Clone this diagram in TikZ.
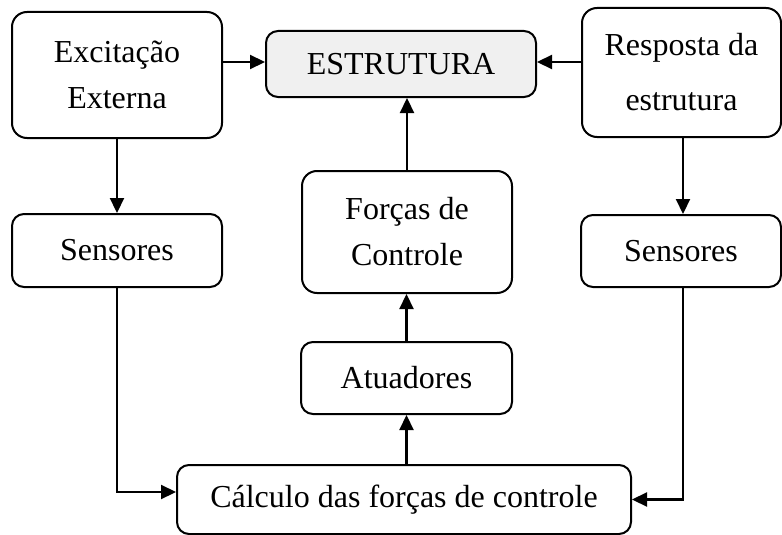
\documentclass[tikz,border=0pt]{standalone}
\usepackage{fontspec}
\setmainfont{Liberation Serif}
\usetikzlibrary{arrows.meta}

\tikzset{bloco/.style={draw,fill=#1,line width=2pt,rounded corners=12pt,align=center,inner sep=0pt,font=\fontsize{32}{38}\selectfont},bloco/.default={white}}

\begin{document}
\begin{tikzpicture}
[x=1pt,y=-1pt,
seta/.style={line width=2.2pt,-{Triangle[length=15pt,width=14pt]}}]
\useasboundingbox (0,0) rectangle (782,535);
\node [bloco,minimum width=210pt,minimum height=126pt,rounded corners=15pt] (exc) at (117,75) {Excita\c{c}\~ao\\[8pt]Externa};
\node [bloco=black!6,minimum width=270pt,minimum height=66pt] (estr) at (401,64) {ESTRUTURA};
\node [bloco,minimum width=199pt,minimum height=129pt,rounded corners=15pt] (resp) at (681.5,72.5) {Resposta da\\[17pt]estrutura};
\node [bloco,minimum width=210pt,minimum height=73pt] (sensL) at (117,250.5) {Sensores};
\node [bloco,minimum width=210pt,minimum height=122pt,rounded corners=15pt] (forcas) at (407,232) {For\c{c}as de\\[8pt]Controle};
\node [bloco,minimum width=200pt,minimum height=72pt] (sensR) at (681,251) {Sensores};
\node [bloco,minimum width=211pt,minimum height=72pt] (atu) at (406.5,378) {Atuadores};
\node [bloco,minimum width=454pt,minimum height=69pt] (calc) at (404,499.5) {C\'alculo das for\c{c}as de controle};

\draw [seta] (exc.east |- 0,62) -- (estr.west |- 0,62);
\draw [seta] (resp.west |- 0,62) -- (estr.east |- 0,62);
\draw [seta] (exc.south) -- (sensL.north);
\draw [seta] (683,0 |- resp.south) -- (683,0 |- sensR.north);
\draw [seta] (forcas.north) -- (forcas.north |- estr.south);
\draw [seta] (atu.north) -- (atu.north |- forcas.south);
\draw [seta] (atu.south |- calc.north) -- (atu.south);
\draw [seta] (sensL.south) |- ([yshift=7.5pt]calc.west);
\draw [seta] (683,0 |- sensR.south) |- (calc.east);
\end{tikzpicture}
\end{document}
